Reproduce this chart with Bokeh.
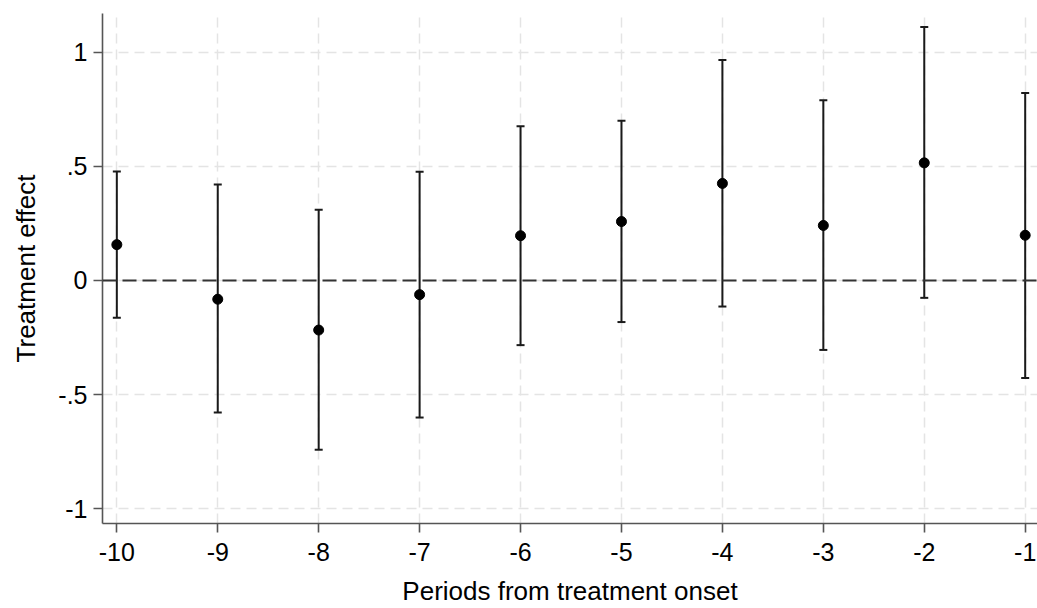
from bokeh.plotting import figure
from bokeh.models import ColumnDataSource, Whisker, TeeHead, Span, FixedTicker
from bokeh.embed import file_html
from bokeh.resources import INLINE

periods = [-10, -9, -8, -7, -6, -5, -4, -3, -2, -1]
estimate = [0.157, -0.082, -0.217, -0.062, 0.196, 0.258, 0.425, 0.241, 0.515, 0.198]
ci_upper = [0.477, 0.420, 0.310, 0.476, 0.675, 0.699, 0.965, 0.789, 1.110, 0.821]
ci_lower = [-0.163, -0.578, -0.741, -0.600, -0.283, -0.182, -0.114, -0.304, -0.076, -0.427]

y_ticks = [-1, -0.5, 0, 0.5, 1]
y_tick_labels = {-1: "-1", -0.5: "-.5", 0: "0", 0.5: ".5", 1: "1"}
x_ticks = periods
x_tick_labels = {p: str(p) for p in periods}

src = ColumnDataSource(dict(x=periods, y=estimate, upper=ci_upper, lower=ci_lower))

FONT = "Liberation Sans"

p = figure(width=1037, height=608, output_backend="svg", toolbar_location=None,
           x_range=(-10.142, -0.878), y_range=(-1.064, 1.169),
           min_border_left=102, min_border_right=0, min_border_top=13, min_border_bottom=84,
           background_fill_color="white", border_fill_color="white")
p.outline_line_color = None

# grid
for g in (p.xgrid, p.ygrid):
    g.grid_line_color = "#e4e4e4"
    g.grid_line_width = 1.5
    g.grid_line_dash = "10 6"
p.xgrid.ticker = FixedTicker(ticks=x_ticks)
p.ygrid.ticker = FixedTicker(ticks=y_ticks)

# axes
p.xaxis.ticker = FixedTicker(ticks=x_ticks)
p.xaxis.major_label_overrides = x_tick_labels
p.yaxis.ticker = FixedTicker(ticks=y_ticks)
p.yaxis.major_label_overrides = y_tick_labels
p.xaxis.axis_label = "Periods from treatment onset"
p.yaxis.axis_label = "Treatment effect"
for ax in (p.xaxis[0], p.yaxis[0]):
    ax.axis_line_color = "#555555"
    ax.axis_line_width = 1.6
    ax.major_tick_line_color = "#555555"
    ax.major_tick_line_width = 1.6
    ax.major_tick_out = 9
    ax.major_tick_in = 0
    ax.minor_tick_line_color = None
    ax.major_label_text_font = FONT
    ax.major_label_text_font_size = "25px"
    ax.major_label_text_color = "black"
    ax.axis_label_text_font = FONT
    ax.axis_label_text_font_size = "26px"
    ax.axis_label_text_font_style = "normal"
    ax.axis_label_text_color = "black"
p.yaxis.major_label_orientation = "horizontal"
p.yaxis.major_label_standoff = 6
p.xaxis.major_label_standoff = 10
p.yaxis.axis_label_standoff = 14
p.xaxis.axis_label_standoff = 12

# zero reference line
p.add_layout(Span(location=0, dimension="width", line_color="#333333",
                  line_width=2.2, line_dash="14 6"))

# confidence intervals
w = Whisker(source=src, base="x", upper="upper", lower="lower",
            line_color="#1a1a1a", line_width=2,
            upper_head=TeeHead(size=8, line_color="#1a1a1a", line_width=2),
            lower_head=TeeHead(size=8, line_color="#1a1a1a", line_width=2))
p.add_layout(w)

# point estimates
p.scatter("x", "y", source=src, size=10, fill_color="black", line_color="black")

open("out.html", "w").write(file_html(p, INLINE))
